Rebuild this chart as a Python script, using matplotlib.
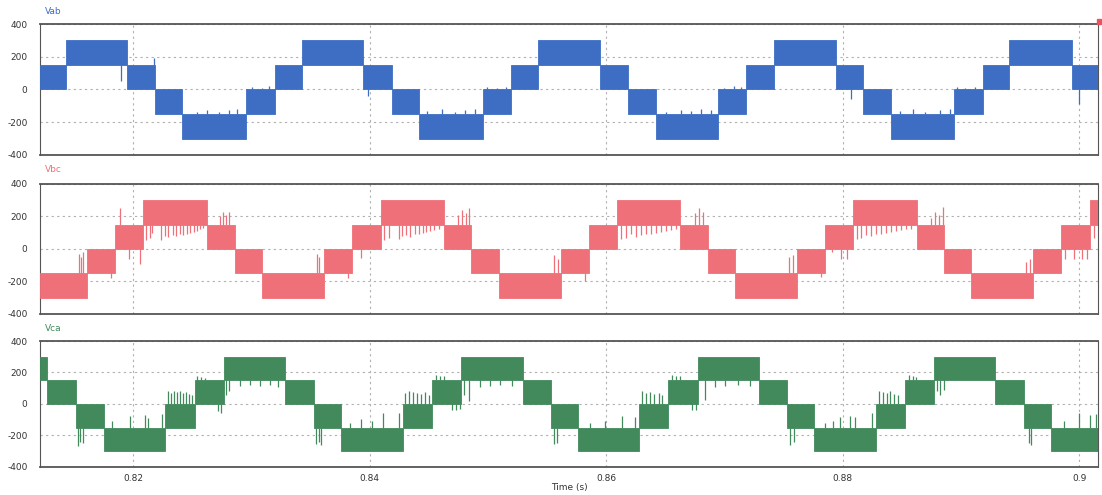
import matplotlib.pyplot as plt
from matplotlib.patches import Rectangle

# time window shown (s)
t_start, t_end = 0.8121, 0.9016
band = 150  # height of one PWM band (V)

# --- Vab: switching instants and lower level of each band ---
vab_edges = [0.8143, 0.81945, 0.82186, 0.82409, 0.82949, 0.83194, 0.83426, 0.83945,
             0.84186, 0.84414, 0.84958, 0.85194, 0.85426, 0.85945, 0.86181, 0.86418,
             0.86949, 0.87181, 0.87422, 0.87941, 0.88173, 0.88409, 0.88941, 0.89186,
             0.89409, 0.89937]
vab_levels = [0, 150, 0, -150, -300, -150, 0, 150, 0, -150, -300, -150, 0, 150,
              0, -150, -300, -150, 0, 150, 0, -150, -300, -150, 0, 150, 0]

# --- Vbc ---
vbc_edges = [0.81607, 0.81843, 0.82080, 0.82622, 0.82859, 0.83092, 0.83616, 0.83849,
             0.84094, 0.84628, 0.84856, 0.85093, 0.85618, 0.85850, 0.86087, 0.86625,
             0.86862, 0.87090, 0.87615, 0.87852, 0.88084, 0.88630, 0.88859, 0.89087,
             0.89612, 0.89849, 0.90090]
vbc_levels = [-300, -150, 0, 150, 0, -150, -300, -150, 0, 150, 0, -150, -300, -150,
              0, 150, 0, -150, -300, -150, 0, 150, 0, -150, -300, -150, 0, 150]

# --- Vca ---
vca_edges = [0.81272, 0.81514, 0.81750, 0.82271, 0.82520, 0.82766, 0.83286, 0.83527,
             0.83755, 0.84280, 0.84525, 0.84775, 0.85295, 0.85532, 0.85761, 0.86281,
             0.86526, 0.86776, 0.87292, 0.87525, 0.87761, 0.88282, 0.88527, 0.88772,
             0.89289, 0.89530, 0.89766]
vca_levels = [150, 0, -150, -300, -150, 0, 150, 0, -150, -300, -150, 0, 150, 0,
              -150, -300, -150, 0, 150, 0, -150, -300, -150, 0, 150, 0, -150, -300]

# --- switching spikes: time, low end, high end ---
vab_spk_t = [0.81899, 0.82177, 0.83983, 0.88067, 0.90000,
             0.82540, 0.82624, 0.82726, 0.82810, 0.82878,
             0.84481, 0.84608, 0.84717, 0.84802, 0.84886,
             0.86506, 0.86633, 0.86717, 0.86802, 0.86886,
             0.88489, 0.88599, 0.88700, 0.88827, 0.88911,
             0.83004, 0.83089, 0.83148, 0.84987, 0.85072, 0.85156,
             0.86996, 0.87080, 0.87139, 0.88970, 0.89038, 0.89122]
vab_spk_lo = [50, 150, -40, -60, -90,
              -150, -150, -150, -150, -150,
              -150, -150, -150, -150, -150,
              -150, -150, -150, -150, -150,
              -150, -150, -150, -150, -150,
              0, 0, 0, 0, 0, 0, 0, 0, 0, 0, 0, 0]
vab_spk_hi = [150, 195, 0, 0, 0,
              -135, -125, -140, -128, -120,
              -130, -122, -138, -125, -120,
              -135, -125, -130, -120, -128,
              -130, -122, -135, -125, -120,
              15, 10, 20, 18, 12, 15, 12, 20, 15, 18, 10, 15]

vbc_spk_t = [0.81543, 0.81560, 0.81577, 0.81814, 0.81966, 0.82059, 0.81890,
             0.82110, 0.82144, 0.82161, 0.82237, 0.82271, 0.82296, 0.82338, 0.82364,
             0.82398, 0.82423, 0.82457, 0.82482, 0.82516, 0.82542, 0.82567, 0.82592,
             0.82736, 0.82762, 0.82787, 0.82812,
             0.83549, 0.83574, 0.83819, 0.83929,
             0.84116, 0.84158, 0.84243, 0.84276, 0.84310, 0.84344, 0.84378, 0.84412,
             0.84446, 0.84479, 0.84513, 0.84547, 0.84581,
             0.84742, 0.84776, 0.84810, 0.84843,
             0.85554, 0.85588, 0.85817,
             0.86121, 0.86164, 0.86206, 0.86248, 0.86290, 0.86333, 0.86375, 0.86417,
             0.86460, 0.86502, 0.86544, 0.86587,
             0.86747, 0.86781, 0.86815, 0.87543, 0.87577,
             0.87814, 0.87907, 0.87983, 0.88034,
             0.88118, 0.88152, 0.88194, 0.88237, 0.88279, 0.88321, 0.88364, 0.88406,
             0.88448, 0.88491, 0.88533, 0.88575,
             0.88745, 0.88778, 0.88812, 0.88846,
             0.89548, 0.89582, 0.89878, 0.89955, 0.90022, 0.90064, 0.90124]
vbc_spk_lo = [-150, -150, -150, -180, -60, -90, 150,
              55, 70, 100, 55, 80, 75, 85, 80, 90, 85, 95, 100, 105, 110, 120, 130,
              150, 150, 150, 150,
              -150, -150, -180, -55,
              55, 70, 60, 80, 85, 75, 90, 95, 100, 105, 110, 115, 125,
              150, 150, 150, 150,
              -150, -150, -195,
              60, 70, 90, 75, 85, 90, 95, 100, 105, 110, 115, 125,
              150, 150, 150, -150, -150,
              -170, -20, -60, -60,
              60, 70, 85, 80, 90, 95, 100, 105, 110, 115, 120, 125,
              150, 150, 150, 150,
              -150, -150, -60, -60, -60, -60, 70]
vbc_spk_hi = [-30, -50, -20, -150, 0, 0, 250,
              150, 150, 150, 150, 150, 150, 150, 150, 150, 150, 150, 150, 150, 150, 150, 150,
              200, 230, 210, 225,
              -30, -50, -150, 0,
              150, 150, 150, 150, 150, 150, 150, 150, 150, 150, 150, 150, 150,
              210, 240, 220, 250,
              -40, -60, -150,
              150, 150, 150, 150, 150, 150, 150, 150, 150, 150, 150, 150,
              220, 250, 230, -50, -40,
              -150, 0, 0, 0,
              150, 150, 150, 150, 150, 150, 150, 150, 150, 150, 150, 150,
              190, 230, 210, 260,
              -80, -60, 0, 0, 0, 0, 150]

vca_spk_t = [0.81535, 0.81552, 0.81577,
             0.81822, 0.81975, 0.82102, 0.82127, 0.82245,
             0.82296, 0.82321, 0.82347, 0.82372, 0.82398, 0.82423, 0.82448, 0.82474, 0.82499,
             0.82541, 0.82575, 0.82609, 0.82719, 0.82745, 0.82787, 0.82812,
             0.82905, 0.82990, 0.83074, 0.83159, 0.83227,
             0.83548, 0.83574, 0.83591,
             0.83836, 0.83929, 0.84022, 0.84115, 0.84250,
             0.84301, 0.84335, 0.84369, 0.84403, 0.84437, 0.84470, 0.84504,
             0.84563, 0.84597, 0.84631, 0.84699, 0.84733, 0.84766,
             0.84800, 0.84843, 0.84936, 0.85020, 0.85105, 0.85206,
             0.85562, 0.85587,
             0.85866, 0.85993, 0.86129, 0.86247,
             0.86306, 0.86340, 0.86374, 0.86408, 0.86442, 0.86475,
             0.86560, 0.86594, 0.86628, 0.86729, 0.86763,
             0.86839, 0.86924, 0.87008, 0.87118, 0.87220,
             0.87558, 0.87584,
             0.87854, 0.87914, 0.87981, 0.88066, 0.88108, 0.88252,
             0.88303, 0.88337, 0.88371, 0.88404, 0.88438, 0.88472,
             0.88557, 0.88591, 0.88624, 0.88802, 0.88827, 0.88853,
             0.89572, 0.89597,
             0.89868, 0.89995, 0.90096, 0.90139]
vca_spk_lo = [-265, -240, -250,
              -150, -150, -150, -150, -150,
              0, 0, 0, 0, 0, 0, 0, 0, 0,
              150, 150, 150, -45, -55, 60, 80,
              115, 120, 115, 120, 110,
              -255, -240, -260,
              -150, -150, -150, -150, -150,
              0, 0, 0, 0, 0, 0, 0,
              150, 150, 150, -35, -40, -30,
              60, 20, 110, 115, 120, 115,
              -255, -245,
              -150, -150, -150, -150,
              0, 0, 0, 0, 0, 0,
              150, 150, 150, -40, -35,
              25, 110, 115, 120, 115,
              -260, -240,
              -150, -150, -150, -150, -150, -150,
              0, 0, 0, 0, 0, 0,
              150, 150, 150, 80, 60, 90,
              -245, -260,
              -150, -150, -150, -150]
vca_spk_hi = [-150, -150, -150,
              -110, -75, -70, -90, -65,
              80, 70, 85, 75, 80, 70, 75, 65, 60,
              175, 170, 165, 0, 0, 150, 150,
              150, 150, 150, 150, 150,
              -150, -150, -150,
              -120, -95, -110, -55, -60,
              70, 80, 75, 70, 65, 75, 60,
              185, 180, 175, 0, 0, 0,
              150, 150, 150, 150, 150, 150,
              -150, -150,
              -120, -110, -75, -80,
              80, 70, 75, 65, 70, 60,
              185, 175, 180, 0, 0,
              150, 150, 150, 150, 150,
              -150, -150,
              -120, -110, -80, -75, -85, -60,
              80, 75, 70, 80, 65, 60,
              185, 175, 170, 150, 150, 150,
              -150, -150,
              -105, -60, -70, -65]

x_ticks = [0.82, 0.84, 0.86, 0.88, 0.9]
x_ticklabels = ['0.82', '0.84', '0.86', '0.88', '0.9']
y_ticks = [-400, -200, 0, 200, 400]

panels = [
    ('Vab', vab_edges, vab_levels, vab_spk_t, vab_spk_lo, vab_spk_hi, '#3d6ec4',
     [0.0363, 0.6869, 0.9601, 0.2646], 0.976),
    ('Vbc', vbc_edges, vbc_levels, vbc_spk_t, vbc_spk_lo, vbc_spk_hi, '#ef7079',
     [0.0363, 0.3657, 0.9601, 0.2626], 0.657),
    ('Vca', vca_edges, vca_levels, vca_spk_t, vca_spk_lo, vca_spk_hi, '#428a5c',
     [0.0363, 0.0566, 0.9601, 0.2545], 0.336),
]

fig = plt.figure(figsize=(11.02, 4.95), dpi=100)

for i, (name, edges, levels, st, slo, shi, color, rect, ty) in enumerate(panels):
    ax = fig.add_axes(rect)
    lefts = [t_start] + edges
    rights = edges + [t_end]
    widths = [r - l for l, r in zip(lefts, rights)]
    ax.bar(lefts, band, width=widths, bottom=levels, align='edge',
           color=color, edgecolor=color, linewidth=0.6, zorder=3)
    ax.vlines(st, slo, shi, color=color, linewidth=0.9, zorder=3)

    ax.set_xlim(t_start, t_end)
    ax.set_ylim(-400, 400)
    ax.set_yticks(y_ticks)
    ax.set_yticklabels([str(v) for v in y_ticks], fontsize=6.5, color='#333333')
    ax.set_xticks(x_ticks)
    ax.tick_params(axis='y', length=0, pad=9)
    ax.tick_params(axis='x', length=0, pad=5)
    if i == 2:
        ax.set_xticklabels(x_ticklabels, fontsize=6.5, color='#333333')
        ax.set_xlabel('Time (s)', fontsize=6.5, color='#333333')
        ax.xaxis.set_label_coords(0.5, -0.125)
    else:
        ax.set_xticklabels([])
    ax.grid(True, color='#b0b0b0', linestyle=(0, (2, 3)), linewidth=0.8, zorder=0)
    for side, sp in ax.spines.items():
        sp.set_color('#555555')
        sp.set_linewidth(1.3 if side in ('top', 'bottom') else 0.8)
    fig.text(0.041, ty, name, color=color, fontsize=6.5, ha='left', va='center')

# small legend marker at top right
fig.patches.append(Rectangle((0.9955, 0.952), 0.004, 0.009, transform=fig.transFigure,
                             color='#ef5060'))

fig.savefig('out.png', dpi=100)
